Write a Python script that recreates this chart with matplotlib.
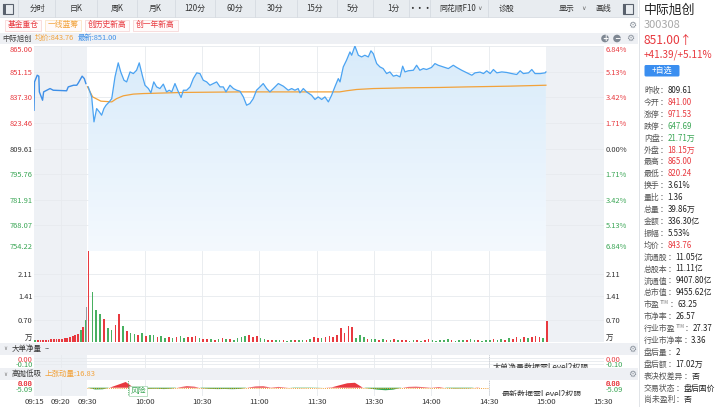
import numpy as np
import matplotlib
matplotlib.use('Agg')
import matplotlib.pyplot as plt
from matplotlib.patches import Rectangle, Circle, FancyBboxPatch
from matplotlib.colors import LinearSegmentedColormap

plt.rcParams['font.family'] = ['Noto Sans CJK SC', 'DejaVu Sans']

# ---------------- data ----------------
stock_name = '中际旭创'
stock_code = '300308'
prev_close = 809.61
last_price = 851.00
avg_last = 843.76
change_text = '+41.39/+5.11%'
momentum = 16.83

price_ticks = [865.00, 851.15, 837.30, 823.46, 809.61, 795.76, 781.91, 768.07, 754.22]
pct_ticks = ['6.84%', '5.13%', '3.42%', '1.71%', '0.00%', '1.71%', '3.42%', '5.13%', '6.84%']

# pre-market auction (minutes after 09:15)
pre_t = [0.0, 0.1, 0.6, 0.9, 1.0, 1.6, 1.8, 2.4, 3.0, 3.6, 6.1, 6.4, 7.4, 8.0, 8.3, 9.0, 9.4, 9.7]
pre_price = [830.3, 845.6, 849.2, 848.7, 840.2, 835.7, 840.2, 841.1, 842.0, 841.1,
             840.8, 842.9, 843.8, 843.8, 845.1, 848.7, 847.4, 844.7]

# continuous session (trading minutes after 09:30)
main_t = [0.4, 2.2, 3.4, 4.8, 6.2, 7.4, 8.6, 9.7, 11.4, 12.7,
          14.4, 16.1, 17.4, 19.1, 20.5, 22.3, 24.0, 25.7, 27.1, 28.9,
          30.1, 31.9, 33.2, 34.7, 36.2, 37.9, 39.7, 41.4, 42.8, 44.1,
          45.8, 47.6, 49.0, 50.2, 51.9, 53.7, 55.4, 57.2, 58.9, 60.6,
          62.4, 64.1, 65.9, 67.6, 69.4, 71.1, 72.5, 74.6, 76.4, 78.1,
          79.8, 81.6, 83.3, 85.0, 86.8, 88.5, 90.3, 92.0, 93.8, 95.5,
          97.3, 99.9, 102.5, 105.1, 106.9, 108.6, 110.3, 111.2, 113.0, 114.7,
          117.3, 119.1, 120.8, 122.6, 124.3, 126.1, 127.8, 129.5, 131.3, 132.2,
          133.9, 135.6, 137.4, 138.3, 140.0, 141.8, 143.5, 145.2, 147.0, 148.4,
          149.6, 151.4, 153.1, 154.8, 156.6, 158.3, 160.1, 161.8, 163.6, 165.0,
          166.2, 167.9, 170.6, 172.3, 174.0, 175.8, 177.5, 180.1, 181.9, 183.6,
          186.3, 188.9, 191.5, 193.3, 195.9, 198.6, 201.2, 202.9, 205.5, 207.3,
          209.0, 210.8, 212.5, 214.3, 216.9, 219.5, 222.1, 224.7, 226.5, 228.2,
          230.9, 232.6, 234.3, 237.0, 239.6, 240.0]
main_price = [842.9, 837.5, 824.0, 831.2, 829.4, 827.6, 831.2, 833.0, 834.8, 836.6,
              848.3, 855.9, 851.0, 846.5, 845.6, 851.0, 850.1, 851.9, 855.9, 848.3,
              843.8, 842.0, 839.7, 845.6, 842.9, 842.0, 844.4, 840.2, 841.1, 840.2,
              844.7, 840.2, 837.2, 841.1, 841.1, 842.9, 847.4, 850.5, 850.1, 846.5,
              845.6, 843.8, 844.7, 845.6, 842.9, 842.9, 840.2, 843.8, 842.0, 841.1,
              840.6, 837.5, 833.0, 833.9, 836.6, 841.1, 842.9, 844.7, 842.0, 840.2,
              842.0, 844.7, 843.3, 841.1, 842.0, 841.1, 842.0, 839.7, 842.0, 840.2,
              838.4, 836.1, 837.5, 836.1, 837.5, 834.8, 838.4, 842.9, 847.4, 845.6,
              853.7, 857.3, 861.8, 860.0, 865.0, 860.0, 859.1, 860.0, 859.1, 862.4,
              860.9, 855.5, 853.7, 852.8, 850.1, 851.0, 848.7, 849.2, 848.3, 854.1,
              851.0, 851.6, 851.9, 854.6, 851.9, 852.8, 852.3, 853.4, 855.5, 854.6,
              853.7, 852.8, 854.6, 853.4, 851.9, 850.5, 849.2, 850.5, 850.9, 850.1,
              851.6, 850.1, 852.3, 850.5, 851.0, 850.7, 850.1, 849.6, 851.6, 850.1,
              850.5, 852.3, 850.1, 850.1, 850.5, 851.0]

avg_t = [0, 2.7, 7.0, 12.7, 15.3, 18.8, 24.0, 29.2, 50.0, 79.8,
         132.0, 135.6, 140.9, 149.6, 167.0, 184.6, 198.6, 221.0, 240.0]
avg_price = [843.0, 837.5, 835.2, 834.8, 836.6, 838.1, 839.0, 839.3, 839.9, 840.2,
             840.2, 840.8, 841.5, 842.0, 842.4, 842.6, 842.9, 843.3, 843.8]

# volume (万手), one bar per 2 trading minutes, 09:30 .. 15:00
vol_values = [2.81, 1.54, 0.98, 0.88, 0.72, 0.43, 0.39, 0.53, 0.86, 0.50,
              0.36, 0.30, 0.26, 0.22, 0.28, 0.20, 0.24, 0.22, 0.15, 0.18,
              0.12, 0.15, 0.13, 0.16, 0.18, 0.14, 0.17, 0.15, 0.20, 0.13,
              0.10, 0.09, 0.11, 0.08, 0.10, 0.12, 0.09, 0.10, 0.08, 0.12,
              0.17, 0.20, 0.22, 0.15, 0.18, 0.12, 0.09, 0.08, 0.06, 0.07,
              0.06, 0.07, 0.05, 0.06, 0.07, 0.06, 0.08, 0.07, 0.10, 0.17,
              0.14, 0.12, 0.15, 0.19, 0.15, 0.22, 0.43, 0.28, 0.50, 0.48,
              0.14, 0.22, 0.17, 0.10, 0.11, 0.09, 0.08, 0.09, 0.07, 0.08,
              0.09, 0.06, 0.06, 0.07, 0.05, 0.06, 0.07, 0.05, 0.06, 0.09,
              0.07, 0.05, 0.06, 0.07, 0.09, 0.06, 0.05, 0.07, 0.08, 0.06,
              0.09, 0.07, 0.06, 0.05, 0.08, 0.07, 0.09, 0.06, 0.10, 0.08,
              0.12, 0.10, 0.15, 0.11, 0.17, 0.14, 0.16, 0.20, 0.17, 0.13,
              0.66]
vol_dirs = ("rgggrggrrg" "rggrgrggrg" "grgrggrrrg" "rrgrgrgrgg" "ggrrrggrrg"
            "grggrggrgr" "rgrrrrrrrr" "gggrggrgrg" "rgrrggrgrr" "gggggrgggr"
            "ggrgggrggr" "grrgrgrrrg" "r")

# pre-market volume, one bar per half minute from 09:15
pre_vol = [0.07, 0.07, 0.08, 0.08, 0.08, 0.08, 0.09, 0.09, 0.09, 0.09,
           0.10, 0.12, 0.13, 0.15, 0.18, 0.21, 0.27, 0.37, 0.47, 0.68]
pre_vol_dirs = "grrrrrrrrrrrrrrrrgrg"
auction_vol = 1.08

# 高抛低吸 oscillator, every 4 trading minutes from 09:30
osc_values = [0.0, -1.8, -1.6, 0.3, 3.0, 5.8, 0.2, -0.8, -1.2, -1.0,
              -1.4, -0.9, 0.4, 1.5, 1.0, -0.5, -1.2, -1.4, -1.3, -1.5,
              -1.2, 0.2, 1.2, 1.4, 0.2, 0.8, 0.2, -0.3, -0.4, -0.3,
              -0.2, 0.0, 0.4, 2.5, 4.5, 5.0, 0.2, -1.0, -2.0, -2.6,
              -2.0, -0.2, 0.8, 1.0, 0.6, 0.1, 0.7, -0.3, -0.8, -0.7,
              -0.6, 0.3, -0.4]

time_labels = ['09:15', '09:20', '09:30', '10:00', '10:30', '11:00', '11:30',
               '13:30', '14:00', '14:30', '15:00', '15:30']
grid_times = ['09:20', '10:00', '10:30', '11:00', '11:30', '13:30', '14:00', '14:30']

tabs = ['分时', '日K', '周K', '月K', '120分', '60分', '30分', '15分', '5分', '1分',
        '•••', '同花顺F10', '诊股', '显示', '画线']
tags = ['基金重仓', '一线蓝筹', '创历史新高', '创一年新高']

side_labels = ['昨收', '今开', '涨停', '跌停', '内盘', '外盘', '最高', '最低', '换手',
               '量比', '总量', '金额', '振幅', '均价', '流通股', '总股本', '流通值',
               '总市值', '市盈TTM', '市净率', '行业市盈TTM', '行业市净率', '盘后量',
               '盘后额', '表决权差异', '交易状态', '尚未盈利']
side_values = ['809.61', '841.00', '971.53', '647.69', '21.71万', '18.15万', '865.00',
               '820.24', '3.61%', '1.36', '39.86万', '336.30亿', '5.53%', '843.76',
               '11.05亿', '11.11亿', '9407.80亿', '9455.62亿', '63.25', '26.57',
               '27.37', '3.36', '2', '17.02万', '否', '盘后固价', '否']
side_kind = ['n', 'u', 'u', 'd', 'd', 'u', 'u', 'u', 'n', 'n', 'n', 'n', 'n', 'u',
             'n', 'n', 'n', 'n', 'n', 'n', 'n', 'n', 'n', 'n', 'n', 'n', 'n']

# ---------------- style ----------------
RED = '#e8393f'
GREEN = '#3aa655'
BLUE = '#4aa3f2'
ORANGE = '#f2a23a'
GREY_BG = '#eef1f5'
GRID = '#e7eaee'
TXT = '#333333'

W, H = 720, 407
fig = plt.figure(figsize=(7.2, 4.07), dpi=100)
fig.patch.set_facecolor('white')

X0, X1 = -28, 270.4


def add_ax(x0, y0, x1, y1, **kw):
    return fig.add_axes([x0 / W, 1 - y1 / H, (x1 - x0) / W, (y1 - y0) / H], **kw)


def to_x(hhmm):
    h, mi = map(int, hhmm.split(':'))
    tot = h * 60 + mi
    if tot < 570:
        return -28 + 2.8 * min(tot - 555, 10)
    if tot <= 690:
        return tot - 570
    return tot - 660


def pre_x(t):
    return -28 + 2.8 * np.asarray(t, dtype=float)


def clean(ax):
    for s in ax.spines.values():
        s.set_visible(False)
    ax.set_xlim(X0, X1)


def vgrid(ax):
    for gt in grid_times:
        ax.axvline(to_x(gt), color=GRID, lw=0.6, zorder=0.5)


def shade(ax):
    ax.axvspan(X0, 0, color=GREY_BG, zorder=0, lw=0)
    ax.axvspan(240, X1, color=GREY_BG, zorder=0, lw=0)
    vgrid(ax)


def tick_color(v, ref):
    if abs(v - ref) < 1e-6:
        return TXT
    return RED if v > ref else GREEN


# ---------------- price panel ----------------
ax_p = add_ax(34, 46, 604, 251)
clean(ax_p)
shade(ax_p)
for v in price_ticks:
    ax_p.axhline(v, color=GRID, lw=0.6, zorder=0.5)

poly = ax_p.fill_between(main_t, main_price, price_ticks[-1], facecolor='none', edgecolor='none')
grad = np.linspace(0, 1, 256).reshape(-1, 1)
cmap = LinearSegmentedColormap.from_list('g', ['#f4f9fe', '#d8ebfa'])
im = ax_p.imshow(grad, extent=[0, 240, price_ticks[-1], price_ticks[0]], origin='lower',
                 aspect='auto', cmap=cmap, zorder=1)
im.set_clip_path(poly.get_paths()[0], transform=ax_p.transData)

ax_p.plot(pre_x(pre_t), pre_price, color='#3d8fe8', lw=1.0, zorder=3)
ax_p.plot(main_t, main_price, color=BLUE, lw=0.9, zorder=3)
ax_p.plot(avg_t, avg_price, color=ORANGE, lw=0.9, zorder=2.5)
ax_p.set_xlim(X0, X1)
ax_p.set_ylim(price_ticks[-1], price_ticks[0])
ax_p.set_xticks([])
ax_p.set_yticks(price_ticks)
ax_p.set_yticklabels([f'{v:.2f}' for v in price_ticks])
ax_p.tick_params(axis='y', length=0, pad=1, labelsize=5.4)
for lab, v in zip(ax_p.get_yticklabels(), price_ticks):
    lab.set_color(tick_color(v, prev_close))
ax_p.get_yticklabels()[0].set_va('top')
ax_p.get_yticklabels()[-1].set_va('bottom')

ax_pr = ax_p.twinx()
clean(ax_pr)
ax_pr.set_ylim(price_ticks[-1], price_ticks[0])
ax_pr.set_yticks(price_ticks)
ax_pr.set_yticklabels(pct_ticks)
ax_pr.tick_params(axis='y', length=0, pad=1.3, labelsize=5.4)
for lab, v in zip(ax_pr.get_yticklabels(), price_ticks):
    lab.set_color(tick_color(v, prev_close))
ax_pr.get_yticklabels()[0].set_va('top')
ax_pr.get_yticklabels()[-1].set_va('bottom')

# ---------------- volume panel ----------------
ax_v = add_ax(34, 251, 604, 342.3)
clean(ax_v)
shade(ax_v)
vol_ticks = [0.0, 0.70, 1.41, 2.11]
vol_ticklabels = ['万', '0.70', '1.41', '2.11']
for v in vol_ticks[1:]:
    ax_v.axhline(v, color=GRID, lw=0.6, zorder=0.5)
vol_t = np.arange(len(vol_values)) * 2.0 + 0.6
cmap_dir = {'r': RED, 'g': '#48b060'}
ax_v.bar(vol_t, vol_values, width=0.85, color=[cmap_dir[c] for c in vol_dirs], zorder=2, lw=0)
pre_vt = np.arange(len(pre_vol)) * 0.5
ax_v.bar(pre_x(pre_vt) + 0.6, pre_vol, width=1.0, color=[cmap_dir[c] for c in pre_vol_dirs],
         zorder=2, lw=0)
ax_v.bar(pre_x([9.85]), [auction_vol], width=0.8, color='#9a9ea6', zorder=2, lw=0)
ax_v.set_ylim(0, 2.81)
ax_v.set_xlim(X0, X1)
ax_v.set_xticks([])
ax_v.set_yticks(vol_ticks)
ax_v.set_yticklabels(vol_ticklabels)
ax_v.tick_params(axis='y', length=0, pad=1, labelsize=5.4, labelcolor=TXT)
ax_v.get_yticklabels()[0].set_va('bottom')
ax_vr = ax_v.twinx()
clean(ax_vr)
ax_vr.set_ylim(0, 2.81)
ax_vr.set_yticks(vol_ticks)
ax_vr.set_yticklabels(vol_ticklabels)
ax_vr.tick_params(axis='y', length=0, pad=1.3, labelsize=5.4, labelcolor=TXT)
ax_vr.get_yticklabels()[0].set_va('bottom')

# ---------------- 大单净量 panel ----------------
ax1 = add_ax(34, 355, 604, 368)
clean(ax1)
ax1.axvspan(X0, 0, color=GREY_BG, zorder=0, lw=0)
vgrid(ax1)
ax1.set_ylim(0, 1)
for f in (0.28, 0.54, 0.79):
    ax1.axhline(f, color=GRID, lw=0.6, zorder=0.5)
ax1.axvline(to_x('14:30'), color='#b8bdc4', lw=0.6, ls=(0, (1, 1.5)))
ax1.text(to_x('14:30') + 2, 0.02, '大单净量数据需Level2权限', fontsize=5.8, color=TXT,
         va='center', ha='left', clip_on=True)
ax1.set_xticks([])
ax1.set_yticks([])

# ---------------- 高抛低吸 panel ----------------
ax2 = add_ax(34, 380, 604, 396)
clean(ax2)
ax2.axvspan(X0, 0, color=GREY_BG, zorder=0, lw=0)
vgrid(ax2)
ax2.set_ylim(-8.4, 7.8)
osc_t = np.arange(len(osc_values)) * 4.0
osc = np.array(osc_values)
ax2.fill_between(osc_t, 0, osc, where=osc >= 0, interpolate=True, color=RED, lw=0, zorder=2)
ax2.fill_between(osc_t, 0, osc, where=osc <= 0, interpolate=True, color='#33a852', lw=0, zorder=2)
ax2.plot([0, to_x('14:30')], [0, 0], color=ORANGE, lw=0.7, ls=(0, (1, 1.2)), zorder=3)
ax2.axvline(21, color=GREEN, lw=0.6, ls=(0, (1, 1.2)), zorder=3)
ax2.text(22.5, -3.6, '风险', fontsize=5.6, color=GREEN, va='center', ha='left',
         bbox=dict(boxstyle='square,pad=0.15', fc='white', ec='#9fd3ad', lw=0.5), zorder=4)
ax2.axvline(to_x('14:30'), color='#b8bdc4', lw=0.6, ls=(0, (1, 1.5)))
ax2.text(to_x('14:30') + 7, 0.08, '最新数据需Level2权限', fontsize=5.8, color=TXT,
         va='center', ha='left', clip_on=True, transform=ax2.get_xaxis_transform())
ax2.set_yticks([])
ax2.set_xticks([to_x(t) for t in time_labels])
ax2.set_xticklabels(time_labels)
ax2.tick_params(axis='x', length=0, pad=1.2, labelsize=5.6, labelcolor=TXT)

# ---------------- chrome overlay ----------------
ov = fig.add_axes([0, 0, 1, 1], zorder=10)
ov.set_xlim(0, W)
ov.set_ylim(H, 0)
ov.axis('off')
ov.patch.set_alpha(0)


def T(x, y, s, size=5.5, color=TXT, ha='left', va='center', **kw):
    return ov.text(x, y, s, fontsize=size, color=color, ha=ha, va=va, **kw)


def gear(x, y, size=6.5):
    T(x, y, '⚙', size=size, color='#8a929c', ha='center', family=['DejaVu Sans'])


# toolbar
ov.add_patch(Rectangle((0, 0), 638, 17, color='#e8ecf0', lw=0))
ov.plot([0, 638], [17, 17], color='#d6dbe1', lw=0.6)
for sx in [18, 55, 97, 137, 175, 215, 255, 297, 337, 373, 409, 430, 488]:
    ov.plot([sx, sx], [0, 17], color='#d6dbe1', lw=0.6)
tab_x = [37, 76, 117, 155, 195, 235, 275, 315, 353, 393, 420, 458, 507, 567, 603.5]
for s, x in zip(tabs, tab_x):
    T(x, 8.5, s, size=5.7, ha='center', weight='bold' if s == '•••' else 'normal')
T(480, 8.5, '∨', size=4.5, color='#666', ha='center', family=['DejaVu Sans'])
T(583, 8.5, '∨', size=4.5, color='#666', ha='center', family=['DejaVu Sans'])
for ix in (2.5, 623):
    ov.add_patch(Rectangle((ix, 3.5), 10, 10, fill=False, ec='#59616d', lw=0.8))
    ov.add_patch(Rectangle((ix, 3.5), 3, 10, color='#59616d', lw=0))
ov.plot([638.5, 638.5], [0, H], color='#dcdfe4', lw=0.6)

# tags
tag_box = [(5, 41), (45, 81), (85, 129), (133, 178)]
tag_col = [RED, ORANGE, RED, RED]
tag_edge = ['#f7d7d8', '#fbe6c6', '#f7d7d8', '#f7d7d8']
for s, (a, b), c, e in zip(tags, tag_box, tag_col, tag_edge):
    ov.add_patch(Rectangle((a, 19.5), b - a, 11, fc='#fffafa', ec=e, lw=0.6))
    T((a + b) / 2, 25, s, size=5.6, color=c, ha='center')
gear(632, 25)

# header row
ov.add_patch(Rectangle((0, 32.5), 638, 11.5, color='#eef0f4', lw=0))
T(2, 38.3, stock_name, size=5.3, color='#444')
T(35, 38.3, f'均价:{avg_last:.2f}', size=5.3, color=ORANGE)
T(78, 38.3, f'最新:{last_price:.2f}', size=5.3, color='#3d8fe8')
for cx, sym in ((605, '+'), (617, '−')):
    ov.add_patch(Circle((cx, 38.5), 3.8, color='#7f8893', lw=0))
    T(cx, 38.3, sym, size=5.5, color='white', ha='center', weight='bold', family=['DejaVu Sans'])
gear(630, 38.5)

# lower panel headers
for y0, title in ((343, '大单净量'), (368, '高抛低吸')):
    ov.add_patch(Rectangle((0, y0), 638, 12, color='#eef0f4', lw=0))
    T(5, y0 + 6, '∨', size=4, color='#777', ha='center', family=['DejaVu Sans'])
    T(12, y0 + 6, title, size=5.4, color='#333')
    gear(632, y0 + 6)
T(45, 349, '--', size=5.4, color='#333')
T(45, 374.2, f'上涨动量:{momentum:.2f}', size=5.4, color=ORANGE)

# lower panel scale labels (left and right) - overlapping as in the source screen
for lx, ha in ((33, 'right'), (606, 'left')):
    T(lx, 359.5, '0.00', size=5.4, color=RED, ha=ha)
    T(lx, 364.8, '-0.10', size=5.4, color=GREEN, ha=ha)
    T(lx, 384.5, '0.00', size=5.4, color=RED, ha=ha)
    T(lx, 384.5, '8.88', size=5.4, color=RED, ha=ha)
    T(lx, 389.5, '-5.09', size=5.4, color=GREEN, ha=ha)

# sidebar
T(644, 10, stock_name, size=9.3, color='#222')
T(644, 25, stock_code, size=8, color='#a8a8a8')
T(644, 40.5, f'{last_price:.2f}↑', size=8.6, color=RED)
T(644, 55, change_text, size=7.2, color=RED)
ov.add_patch(FancyBboxPatch((644.5, 65), 35, 11.5, boxstyle='round,pad=0,rounding_size=1.5',
                            color='#3a8ef0', lw=0))
T(662, 70.8, '+自选', size=5.8, color='white', ha='center')

fig.canvas.draw()
rend = fig.canvas.get_renderer()


def wpx(t):
    return t.get_window_extent(renderer=rend).width


kind_col = {'n': '#222222', 'u': RED, 'd': GREEN}
for i, (lab, val, k) in enumerate(zip(side_labels, side_values, side_kind)):
    y = 90.5 + i * 11.9
    x = 644
    base = lab[:-3] if lab.endswith('TTM') else lab
    t = T(x, y, base, size=5.7, color='#555')
    x += wpx(t)
    if lab.endswith('TTM'):
        t = T(x + 0.3, y - 1.8, 'TTM', size=3.2, color='#777')
        x += wpx(t) + 0.6
    t = T(x, y, '：', size=5.7, color='#555')
    x += wpx(t)
    T(x, y, val, size=5.7, color=kind_col[k])

fig.savefig('out.png', dpi=100, facecolor='white')
